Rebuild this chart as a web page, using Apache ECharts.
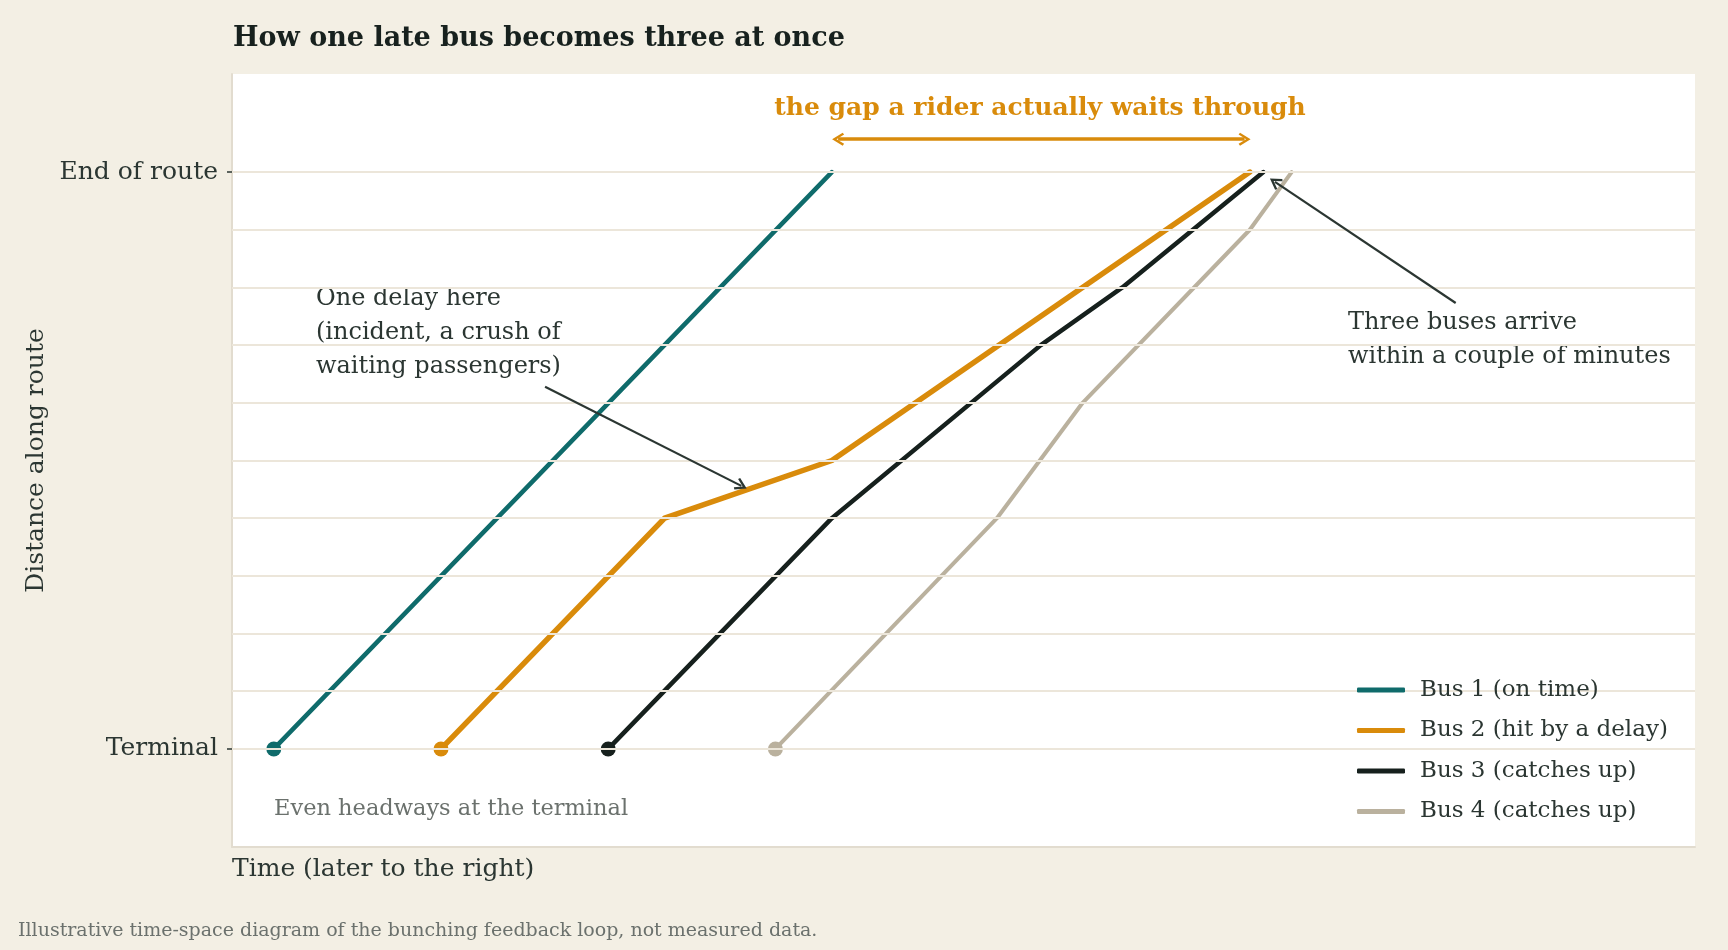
<!DOCTYPE html>
<html>
<head>
<meta charset="utf-8">
<script src="https://cdn.jsdelivr.net/npm/echarts@6/dist/echarts.min.js"></script>
<style>
  html, body { margin: 0; padding: 0; background: #f3efe4; }
  #chart { width: 1728px; height: 950px; }
</style>
</head>
<body>
<div id="chart"></div>
<script>
// time in minutes, distance as share of the route (0 = terminal, 1 = end)
const busNames = ['Bus 1 (on time)', 'Bus 2 (hit by a delay)', 'Bus 3 (catches up)', 'Bus 4 (catches up)']
const bus1Time = [2, 28.7]
const bus1Dist = [0, 1]
const bus2Time = [10, 20.7, 28.7, 48.7]
const bus2Dist = [0, 0.4, 0.5, 1]
const bus3Time = [18, 28.7, 38.7, 42.6, 49.35]
const bus3Dist = [0, 0.4, 0.7, 0.8, 1]
const bus4Time = [26, 36.6, 40.7, 48.7, 50.7]
const bus4Dist = [0, 0.4, 0.6, 0.9, 1]
const distTicks = [0, 1]
const distTickLabels = ['Terminal', 'End of route']
const gridLevels = [0, 0.1, 0.2, 0.3, 0.4, 0.5, 0.6, 0.7, 0.8, 0.9, 1]

const colors = ['#0f6b6b', '#d98b0b', '#16201d', '#bab19e']
const widths = [4.5, 5.5, 4.5, 4]
const font = 'DejaVu Serif'
const ink = '#2b3632'
const grey = '#6b716d'
const chevron = 'path://M5,0 L10,9 L8.6,10.2 L5,3.8 L1.4,10.2 L0,9 Z'

const times = [bus1Time, bus2Time, bus3Time, bus4Time]
const dists = [bus1Dist, bus2Dist, bus3Dist, bus4Dist]
const pairs = (t, d) => t.map((x, i) => [x, d[i]])

const busSeries = busNames.map((name, i) => ({
    name: name,
    type: 'line',
    data: pairs(times[i], dists[i]),
    symbol: 'none',
    z: 3,
    lineStyle: { color: colors[i], width: widths[i], cap: 'round', join: 'round' },
    itemStyle: { color: colors[i] }
}))

const bus1End = bus1Time[bus1Time.length - 1]
const bus2End = bus2Time[bus2Time.length - 1]

const chart = echarts.init(document.getElementById('chart'))
chart.setOption({
    backgroundColor: '#f3efe4',
    animation: false,
    title: {
        text: 'How one late bus becomes three at once',
        left: 228,
        top: 20,
        textStyle: { fontFamily: font, fontWeight: 'bold', fontSize: 27, color: '#17211e' }
    },
    grid: {
        left: 232, right: 33, top: 74, bottom: 103,
        show: true, backgroundColor: '#ffffff', borderWidth: 0
    },
    legend: {
        data: busNames,
        z: 10,
        orient: 'vertical',
        left: 1352,
        top: 671,
        icon: 'roundRect',
        itemWidth: 48,
        itemHeight: 5,
        itemGap: 12.5,
        textStyle: { fontFamily: font, fontSize: 23, color: ink, lineHeight: 28, padding: [0, 0, 0, 10] }
    },
    xAxis: {
        type: 'value',
        min: 0,
        max: 70,
        name: 'Time (later to the right)',
        nameLocation: 'start',
        nameGap: 0,
        nameTextStyle: { fontFamily: font, fontSize: 25, color: ink, align: 'left', verticalAlign: 'top', padding: [10, 0, 0, 0] },
        axisLine: { show: true, onZero: false, lineStyle: { color: '#e2dccf', width: 2 } },
        axisTick: { show: false },
        axisLabel: { show: false },
        splitLine: { show: false }
    },
    yAxis: {
        type: 'value',
        min: -0.17,
        max: 1.17,
        name: 'Distance along route',
        nameLocation: 'middle',
        nameGap: 183,
        nameTextStyle: { fontFamily: font, fontSize: 25, color: ink },
        axisLine: { show: true, onZero: false, lineStyle: { color: '#e2dccf', width: 2 } },
        axisTick: { show: true, customValues: distTicks, length: 5, lineStyle: { color: ink, width: 1.5 } },
        axisLabel: {
            customValues: distTicks,
            margin: 14,
            fontFamily: font,
            fontSize: 25,
            color: ink,
            formatter: v => {
                const k = distTicks.indexOf(v)
                return k < 0 ? '' : distTickLabels[k]
            }
        },
        splitLine: { show: false }
    },
    series: [
        {
            name: 'grid',
            type: 'line',
            data: [],
            z: 1,
            silent: true,
            markLine: {
                silent: true,
                symbol: ['none', 'none'],
                label: { show: false },
                lineStyle: { color: '#ece6da', width: 2, type: 'solid' },
                data: gridLevels.map(v => ({ yAxis: v }))
            }
        },
        ...busSeries,
        {
            name: 'starts',
            type: 'scatter',
            z: 4,
            symbolSize: 15,
            data: times.map((t, i) => ({ value: [t[0], dists[i][0]], itemStyle: { color: colors[i], opacity: 1 } }))
        },
        {
            name: 'annotations',
            type: 'line',
            data: [],
            z: 5,
            silent: true,
            markLine: {
                silent: true,
                label: { show: false },
                symbolSize: [13, 12],
                data: [
                    [
                        { coord: [bus1End + 0.3, 1.057], symbol: chevron, lineStyle: { color: '#d98b0b', width: 3.5, type: 'solid' } },
                        { coord: [bus2End - 0.25, 1.057], symbol: chevron }
                    ],
                    [
                        { coord: [14.98, 0.628], symbol: 'none', lineStyle: { color: '#2b3632', width: 2.2, type: 'solid' } },
                        { coord: [24.37, 0.456], symbol: chevron }
                    ],
                    [
                        { coord: [58.55, 0.773], symbol: 'none', lineStyle: { color: '#2b3632', width: 2.2, type: 'solid' } },
                        { coord: [49.9, 0.983], symbol: chevron }
                    ]
                ]
            }
        }
    ],
    graphic: [
        {
            type: 'text', x: 1040, y: 108,
            style: { text: 'the gap a rider actually waits through', fontFamily: font, fontWeight: 'bold', fontSize: 25, fill: '#d98b0b', align: 'center', verticalAlign: 'middle' }
        },
        {
            type: 'text', x: 316, y: 282,
            style: { text: 'One delay here\n(incident, a crush of\nwaiting passengers)', fontFamily: font, fontSize: 24, lineHeight: 34, fill: ink, verticalAlign: 'top' }
        },
        {
            type: 'text', x: 1348, y: 306,
            style: { text: 'Three buses arrive\nwithin a couple of minutes', fontFamily: font, fontSize: 24, lineHeight: 34, fill: ink, verticalAlign: 'top' }
        },
        {
            type: 'text', x: 274, y: 809,
            style: { text: 'Even headways at the terminal', fontFamily: font, fontSize: 22.5, fill: grey, verticalAlign: 'middle' }
        },
        {
            type: 'text', x: 18, y: 931,
            style: { text: 'Illustrative time-space diagram of the bunching feedback loop, not measured data.', fontFamily: font, fontSize: 19, fill: grey, verticalAlign: 'middle' }
        }
    ]
})
window.addEventListener('resize', () => chart.resize())
</script>
</body>
</html>
